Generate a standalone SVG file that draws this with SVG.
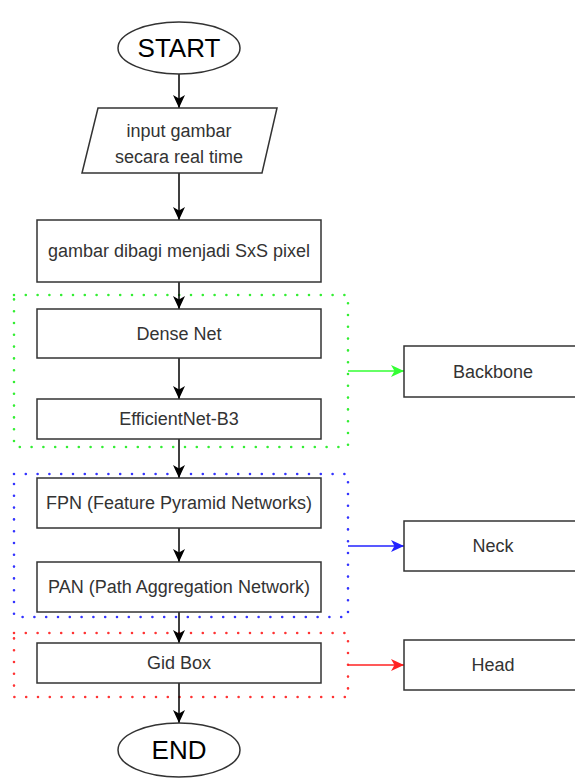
<svg xmlns="http://www.w3.org/2000/svg" width="575" height="783" viewBox="0 0 575 783">
<style>
.box{fill:#fff;stroke:#333;stroke-width:1.5}
.t{font-family:"Liberation Sans",Arial,sans-serif;font-size:18px;fill:#333;text-anchor:middle}
.big{font-family:"Liberation Sans",Arial,sans-serif;font-size:26px;fill:#000;text-anchor:middle}
.edge{fill:none;stroke:#000;stroke-width:1.5}
.dot{fill:none;stroke-width:2.6;stroke-linecap:round;stroke-dasharray:0 11.8}
</style>
<defs>
<marker id="ak" markerUnits="userSpaceOnUse" markerWidth="14" markerHeight="12" refX="13" refY="6" orient="auto"><path d="M0,0 L13,6 L0,12 L3.5,6 z" fill="#000"/></marker>
<marker id="ag" markerUnits="userSpaceOnUse" markerWidth="14" markerHeight="12" refX="13" refY="6" orient="auto"><path d="M0,0 L13,6 L0,12 L3.5,6 z" fill="#33ff33"/></marker>
<marker id="ab" markerUnits="userSpaceOnUse" markerWidth="14" markerHeight="12" refX="13" refY="6" orient="auto"><path d="M0,0 L13,6 L0,12 L3.5,6 z" fill="#2222ff"/></marker>
<marker id="ar" markerUnits="userSpaceOnUse" markerWidth="14" markerHeight="12" refX="13" refY="6" orient="auto"><path d="M0,0 L13,6 L0,12 L3.5,6 z" fill="#ff2222"/></marker>
</defs>

<g id="groups">
<rect class="dot" x="14" y="295" width="334" height="152" stroke="#33ee33"/>
<rect class="dot" x="14" y="474" width="334" height="143" stroke="#3333ff"/>
<rect class="dot" x="14" y="633" width="334" height="64" stroke="#ff3333"/>
</g>

<g id="connectors">
<line class="edge" x1="179" y1="74" x2="179" y2="108" marker-end="url(#ak)"/>
<line class="edge" x1="179" y1="173" x2="179" y2="220" marker-end="url(#ak)"/>
<line class="edge" x1="179" y1="282" x2="179" y2="309" marker-end="url(#ak)"/>
<line class="edge" x1="179" y1="358" x2="179" y2="399" marker-end="url(#ak)"/>
<line class="edge" x1="179" y1="439" x2="179" y2="478" marker-end="url(#ak)"/>
<line class="edge" x1="179" y1="528" x2="179" y2="562" marker-end="url(#ak)"/>
<line class="edge" x1="179" y1="612" x2="179" y2="643" marker-end="url(#ak)"/>
<line class="edge" x1="179" y1="683" x2="179" y2="723" marker-end="url(#ak)"/>
<line x1="348" y1="371" x2="404" y2="371" stroke="#33ff33" stroke-width="1.5" marker-end="url(#ag)"/>
<line x1="348" y1="546" x2="404" y2="546" stroke="#2222ff" stroke-width="1.5" marker-end="url(#ab)"/>
<line x1="348" y1="665" x2="404" y2="665" stroke="#ff2222" stroke-width="1.5" marker-end="url(#ar)"/>
</g>

<g id="start">
<ellipse class="box" cx="179" cy="48" rx="61" ry="26"/>
<text class="big" x="179" y="57">START</text>
</g>
<g id="input">
<polygon class="box" points="98,108 277,108 262,173 82,173"/>
<text class="t" x="179" y="137">input gambar</text>
<text class="t" x="179" y="163">secara real time</text>
</g>
<g id="grid">
<rect class="box" x="37" y="220" width="284" height="62"/>
<text class="t" x="179" y="257">gambar dibagi menjadi SxS pixel</text>
</g>
<g id="densenet">
<rect class="box" x="37" y="309" width="284" height="49"/>
<text class="t" x="179" y="340">Dense Net</text>
</g>
<g id="efficientnet">
<rect class="box" x="37" y="399" width="284" height="40"/>
<text class="t" x="179" y="425">EfficientNet-B3</text>
</g>
<g id="fpn">
<rect class="box" x="37" y="478" width="284" height="50"/>
<text class="t" x="179" y="509">FPN (Feature Pyramid Networks)</text>
</g>
<g id="pan">
<rect class="box" x="37" y="562" width="284" height="50"/>
<text class="t" x="179" y="593">PAN (Path Aggregation Network)</text>
</g>
<g id="gidbox">
<rect class="box" x="37" y="643" width="284" height="40"/>
<text class="t" x="179" y="669">Gid Box</text>
</g>
<g id="end">
<ellipse class="box" cx="179" cy="750" rx="61" ry="27"/>
<text class="big" x="179" y="759">END</text>
</g>
<g id="backbone">
<rect class="box" x="404" y="346" width="178" height="51"/>
<text class="t" x="493" y="378">Backbone</text>
</g>
<g id="neck">
<rect class="box" x="404" y="521" width="178" height="50"/>
<text class="t" x="493" y="552">Neck</text>
</g>
<g id="head">
<rect class="box" x="404" y="640" width="178" height="50"/>
<text class="t" x="493" y="671">Head</text>
</g>
</svg>
